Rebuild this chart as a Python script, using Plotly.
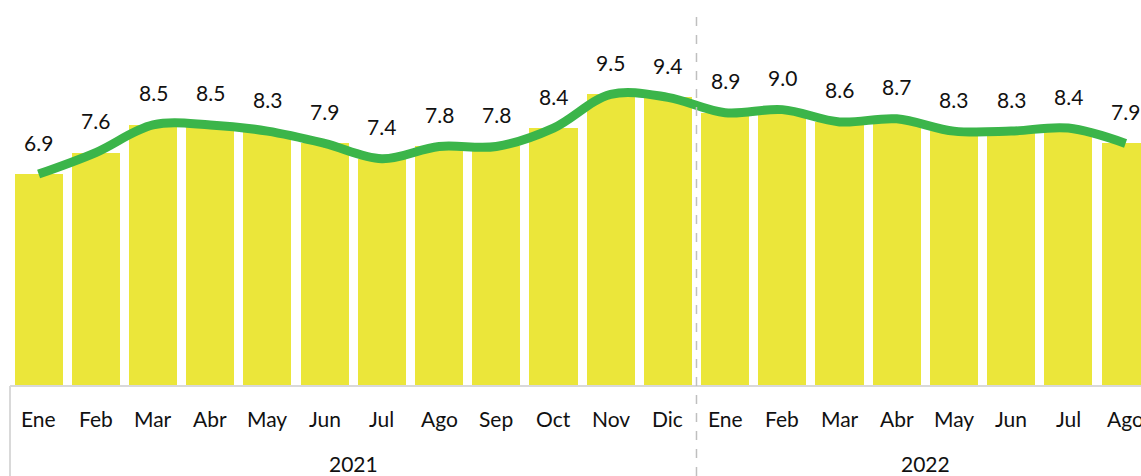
import plotly.graph_objects as go

months = ["Ene", "Feb", "Mar", "Abr", "May", "Jun", "Jul", "Ago", "Sep", "Oct", "Nov", "Dic",
          "Ene", "Feb", "Mar", "Abr", "May", "Jun", "Jul", "Ago"]
years = ["2021", "2022"]
year_counts = [12, 8]
values = [6.9, 7.6, 8.5, 8.5, 8.3, 7.9, 7.4, 7.8, 7.8, 8.4, 9.5, 9.4,
          8.9, 9.0, 8.6, 8.7, 8.3, 8.3, 8.4, 7.9]

x = list(range(len(values)))
FONT = "Lato"
BAR = "#EBE63A"
LINE = "#3BB54A"

fig = go.Figure()
fig.add_trace(go.Bar(x=x, y=values, marker=dict(color=BAR, line=dict(width=0)),
                     width=0.84, hoverinfo="skip"))
fig.add_trace(go.Scatter(x=x, y=values, mode="lines",
                         line=dict(color=LINE, width=9, shape="spline", smoothing=1.0),
                         hoverinfo="skip"))

annotations = []
for xi, v in zip(x, values):
    annotations.append(dict(x=xi, y=v, xref="x", yref="y", text=f"{v:.1f}",
                            showarrow=False, yshift=32, yanchor="middle",
                            font=dict(family=FONT, size=21, color="#111111")))
for xi, m in zip(x, months):
    annotations.append(dict(x=xi, y=0, xref="x", yref="paper", text=m,
                            showarrow=False, yshift=-32, yanchor="middle",
                            font=dict(family=FONT, size=21, color="#111111")))
start = 0
for yr, n in zip(years, year_counts):
    center = start + (n - 1) / 2
    annotations.append(dict(x=center, y=0, xref="x", yref="paper", text=yr,
                            showarrow=False, yshift=-77, yanchor="middle",
                            font=dict(family=FONT, size=21, color="#111111")))
    start += n

plot_h = 386
below = -90 / plot_h
shapes = [
    dict(type="line", xref="paper", yref="paper", x0=0, x1=1, y0=0, y1=0,
         line=dict(color="#D9D9D9", width=2)),
    dict(type="line", xref="paper", yref="paper", x0=0, x1=0, y0=0, y1=below,
         line=dict(color="#D9D9D9", width=2)),
    dict(type="line", xref="x", yref="paper", x0=11.5, x1=11.5, y0=below, y1=(386 - 10) / plot_h,
         line=dict(color="#BFBFBF", width=1.5, dash="dash")),
]

fig.update_layout(
    width=1141, height=476,
    margin=dict(l=10, r=0, t=0, b=90),
    paper_bgcolor="white", plot_bgcolor="white",
    showlegend=False,
    bargap=0,
    hovermode=False,
    xaxis=dict(range=[-0.5, 19.27], showticklabels=False, showgrid=False,
               zeroline=False, showline=False, ticks=""),
    yaxis=dict(range=[0, 12.57], showticklabels=False, showgrid=False,
               zeroline=False, showline=False),
    annotations=annotations,
    shapes=shapes,
)

fig.write_html("out.html", config={"displayModeBar": False},
               post_script="document.body.style.margin='0';document.body.style.overflow='hidden';")
